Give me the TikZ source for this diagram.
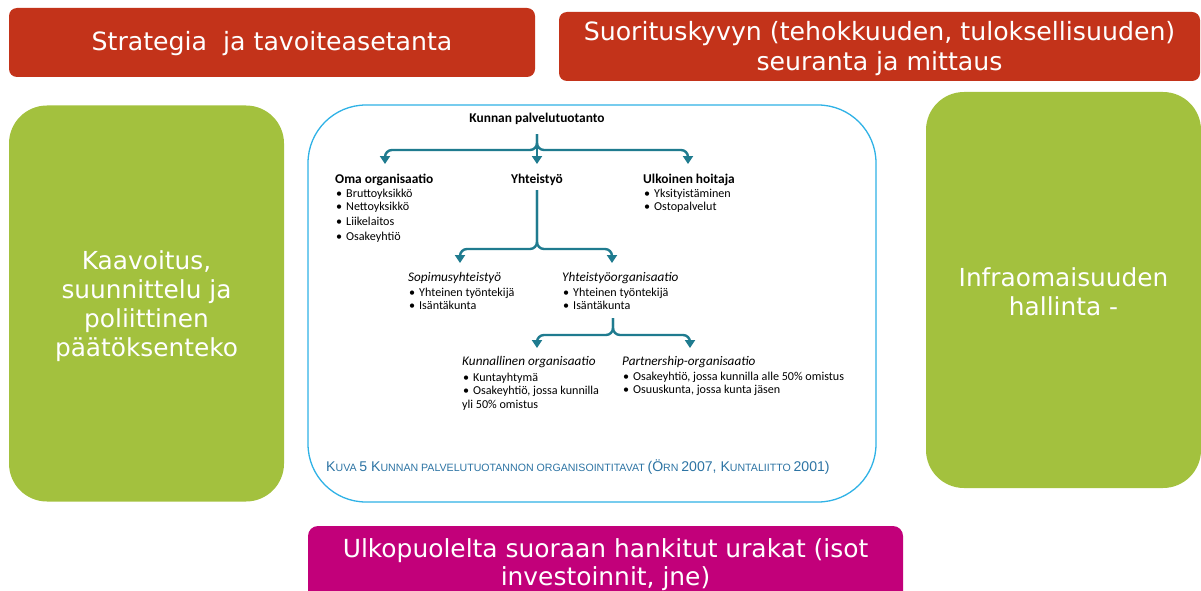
\documentclass[tikz,border=0pt]{standalone}
\usepackage{fontspec}
\setmainfont{DejaVu Sans}
\newfontfamily\calfont{Carlito}
\newfontfamily\arialfont{Liberation Sans}
\usetikzlibrary{arrows.meta,calc}
\definecolor{redbox}{HTML}{C3331A}
\definecolor{greenbox}{HTML}{A3C13E}
\definecolor{magbox}{HTML}{C2007A}
\definecolor{cyanline}{HTML}{2FB2E6}
\definecolor{tealarr}{HTML}{1F7B8F}
\definecolor{captc}{HTML}{2D74A4}
\newcommand\bul{\makebox[10pt][l]{\textbullet}}
\newcommand\capL[1]{{\fontsize{14.1}{16}\selectfont #1}}
\newcommand\capS[1]{{\fontsize{10.6}{16}\selectfont #1}}
\tikzset{
  bigbox/.style={inner sep=0pt, text=white, align=center, font=\fontsize{25}{29}\selectfont},
  redb/.style={bigbox, fill=redbox, rounded corners=8pt, font=\fontsize{25.2}{30}\selectfont},
  greenb/.style={bigbox, fill=greenbox, rounded corners=38pt, font=\fontsize{24.8}{29}\selectfont},
  magb/.style={bigbox, fill=magbox, rounded corners=10pt, font=\fontsize{24.9}{28}\selectfont},
  boxtext/.style={inner sep=0pt, text=white, align=center},
  tr/.style={inner sep=0pt, anchor=base west, font=\calfont\fontsize{12.1}{14}\selectfont},
  trh/.style={tr, font=\calfont\bfseries\fontsize{13.4}{15}\selectfont},
  tri/.style={tr, font=\calfont\itshape\fontsize{13.2}{15}\selectfont},
  br/.style={draw=tealarr, line width=2.4pt, rounded corners=7pt, -{Triangle[width=10pt,length=8pt]}},
}
\begin{document}
\begin{tikzpicture}[x=1pt,y=-1pt]
\useasboundingbox (0,0) rectangle (1201,591);
% big boxes
\node[redb, minimum width=526pt, minimum height=69pt] (strat) at (272,42.5) {};
\node[boxtext, font=\fontsize{25.2}{30}\selectfont] (stratt) at ([yshift=-1pt]strat.center) {Strategia\ \ ja tavoiteasetanta};
\node[redb, minimum width=641pt, minimum height=69pt] (suor) at (879.5,46.5) {};
\node[boxtext, font=\fontsize{25.2}{30}\selectfont] (suort) at ([yshift=-2pt]suor.center) {Suorituskyvyn (tehokkuuden, tuloksellisuuden)\\seuranta ja mittaus};
\node[greenb, minimum width=275pt, minimum height=396pt] (kaav) at (146.5,303.5) {};
\node[boxtext, font=\fontsize{24.8}{29}\selectfont] (kaavt) at ([yshift=-3pt]kaav.center) {Kaavoitus,\\suunnittelu ja\\poliittinen\\päätöksenteko};
\node[greenb, minimum width=275pt, minimum height=396pt] (infra) at (1063.5,290) {};
\node[boxtext, font=\fontsize{24.8}{29}\selectfont] (infrat) at ([yshift=-2pt]infra.center) {Infraomaisuuden\\hallinta -};
\node[magb, minimum width=595pt, minimum height=76pt] (ulko) at (605.5,564) {};
\node[boxtext, font=\fontsize{24.9}{28}\selectfont] (ulkot) at ([yshift=-1pt]ulko.center) {Ulkopuolelta suoraan hankitut urakat (isot\\investoinnit, jne)};
% center frame
\node[draw=cyanline, line width=1.3pt, fill=white, rounded corners=58pt, minimum width=568pt, minimum height=397pt, inner sep=0pt] (frame) at (592,303.5) {};
% tree texts
\node[trh, anchor=base] (kun) at (537,122) {Kunnan palvelutuotanto};
\node[trh] (oma) at (335,183) {Oma organisaatio};
\node[tr] (oma1) at (336,197) {\bul Bruttoyksikkö};
\node[tr] (oma2) at (336,210) {\bul Nettoyksikkö};
\node[tr] (oma3) at (336,225) {\bul Liikelaitos};
\node[tr] (oma4) at (336,240) {\bul Osakeyhtiö};
\node[trh, anchor=base] (yht) at (537,183) {Yhteistyö};
\node[trh] (ulk) at (643,183) {Ulkoinen hoitaja};
\node[tr] (ulk1) at (644,197) {\bul Yksityistäminen};
\node[tr] (ulk2) at (644,210) {\bul Ostopalvelut};
\node[tri] (sop) at (408,281) {Sopimusyhteistyö};
\node[tr] (sop1) at (409,296) {\bul Yhteinen työntekijä};
\node[tr] (sop2) at (409,309) {\bul Isäntäkunta};
\node[tri] (yorg) at (562,281) {Yhteistyöorganisaatio};
\node[tr] (yorg1) at (563,296) {\bul Yhteinen työntekijä};
\node[tr] (yorg2) at (563,309) {\bul Isäntäkunta};
\node[tri] (kunn) at (462,365) {Kunnallinen organisaatio};
\node[tr] (kunn1) at (463,381) {\bul Kuntayhtymä};
\node[tr] (kunn2) at (463,394) {\bul Osakeyhtiö, jossa kunnilla};
\node[tr] (kunn3) at (462,408) {yli 50\% omistus};
\node[tri] (part) at (622,365) {Partnership-organisaatio};
\node[tr] (part1) at (623,380) {\bul Osakeyhtiö, jossa kunnilla alle 50\% omistus};
\node[tr] (part2) at (623,393) {\bul Osuuskunta, jossa kunta jäsen};
\node[inner sep=0pt, anchor=base west, text=captc, font=\arialfont] (capt) at (326,471)
  {\capL{K}\capS{UVA} \capL{5 K}\capS{UNNAN PALVELUTUOTANNON ORGANISOINTITAVAT} \capL{(Ö}\capS{RN} \capL{2007, K}\capS{UNTALIITTO} \capL{2001)}};
% brace 1
\coordinate (s1) at (537,134);
\coordinate (h1) at (537,150);
\coordinate (t1a) at (385,164);
\coordinate (t1b) at (537,164);
\coordinate (t1c) at (688,164);
\draw[br] (s1) -- (h1) -- (t1a |- h1) -- (t1a);
\draw[br] (s1) -- (h1) -- (t1c |- h1) -- (t1c);
\draw[br, rounded corners=0pt] (s1) -- (t1b);
% brace 2
\coordinate (s2) at (537,190);
\coordinate (h2) at (537,249);
\coordinate (t2a) at (460,263);
\coordinate (t2b) at (612,263);
\draw[br] (s2) -- (h2) -- (t2a |- h2) -- (t2a);
\draw[br] (s2) -- (h2) -- (t2b |- h2) -- (t2b);
% brace 3
\coordinate (s3) at (613,318);
\coordinate (h3) at (613,335);
\coordinate (t3a) at (537,348);
\coordinate (t3b) at (690,348);
\draw[br] (s3) -- (h3) -- (t3a |- h3) -- (t3a);
\draw[br] (s3) -- (h3) -- (t3b |- h3) -- (t3b);
\end{tikzpicture}
\end{document}
